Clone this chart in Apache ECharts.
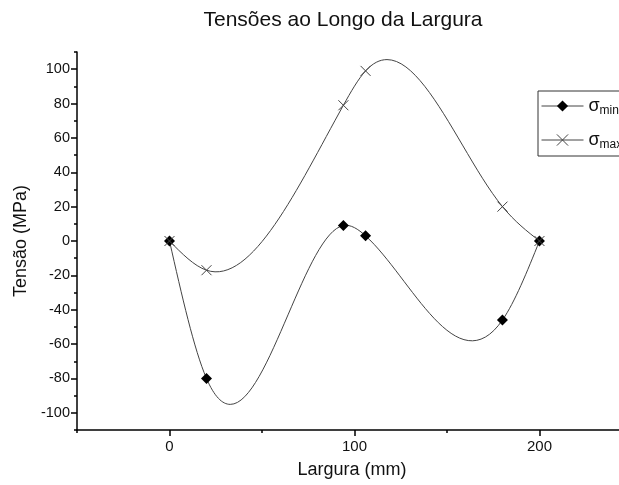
<!DOCTYPE html>
<html>
<head>
<meta charset="utf-8">
<script src="https://cdn.jsdelivr.net/npm/echarts@6/dist/echarts.min.js"></script>
<style>
  html, body { margin: 0; padding: 0; background: #fff; }
  #main { width: 619px; height: 485px; }
</style>
</head>
<body>
<div id="main"></div>
<script>
// largura (mm) e tensões (MPa)
const largura = [0, 20, 94, 106, 180, 200];
const sigmaMin = [0, -80, 9, 3, -46, 0];
const sigmaMax = [0, -17, 79, 99, 20, 0];
const yTicks = [-100, -80, -60, -40, -20, 0, 20, 40, 60, 80, 100];
const yMinorTicks = [-110, -90, -70, -50, -30, -10, 10, 30, 50, 70, 90, 110];
const xTicks = [0, 100, 200];
const xMinorTicks = [-50, 50, 150];

const font = 'Arial, "Liberation Sans", sans-serif';
const lineColor = '#444';
const crossPath = 'path://M0,0L10,10M10,0L0,10';

// spline cúbica natural -> segmentos bezier (em coordenadas de dados)
function splineSegments(xs, ys) {
    const n = xs.length;
    const h = [];
    for (let i = 0; i < n - 1; i++) h.push(xs[i + 1] - xs[i]);
    // sistema tridiagonal para as segundas derivadas M
    const a = new Array(n).fill(0), b = new Array(n).fill(1), c = new Array(n).fill(0), d = new Array(n).fill(0);
    for (let i = 1; i < n - 1; i++) {
        a[i] = h[i - 1];
        b[i] = 2 * (h[i - 1] + h[i]);
        c[i] = h[i];
        d[i] = 6 * ((ys[i + 1] - ys[i]) / h[i] - (ys[i] - ys[i - 1]) / h[i - 1]);
    }
    for (let i = 1; i < n; i++) {
        const m = a[i] / b[i - 1];
        b[i] -= m * c[i - 1];
        d[i] -= m * d[i - 1];
    }
    const M = new Array(n).fill(0);
    M[n - 1] = d[n - 1] / b[n - 1];
    for (let i = n - 2; i >= 0; i--) M[i] = (d[i] - c[i] * M[i + 1]) / b[i];

    const segs = [];
    for (let i = 0; i < n - 1; i++) {
        const hi = h[i];
        const s = (ys[i + 1] - ys[i]) / hi;
        const d0 = s - hi * (2 * M[i] + M[i + 1]) / 6;
        const d1 = s + hi * (M[i] + 2 * M[i + 1]) / 6;
        segs.push([
            [xs[i], ys[i]],
            [xs[i] + hi / 3, ys[i] + d0 * hi / 3],
            [xs[i + 1] - hi / 3, ys[i + 1] - d1 * hi / 3],
            [xs[i + 1], ys[i + 1]]
        ]);
    }
    return segs;
}

function curveSeries(xs, ys) {
    const segs = splineSegments(xs, ys);
    return {
        type: 'custom',
        silent: true,
        z: 1,
        data: segs.map(s => s[0]),
        renderItem: (params, api) => {
            const s = segs[params.dataIndex];
            const p = s.map(pt => api.coord(pt));
            return {
                type: 'bezierCurve',
                shape: {
                    x1: p[0][0], y1: p[0][1],
                    cpx1: p[1][0], cpy1: p[1][1],
                    cpx2: p[2][0], cpy2: p[2][1],
                    x2: p[3][0], y2: p[3][1]
                },
                style: { fill: null, stroke: lineColor, lineWidth: 1 }
            };
        }
    };
}

const pairs = (xs, ys) => xs.map((x, i) => [x, ys[i]]);

var myChart = echarts.init(document.getElementById('main'));

const axisName = { fontFamily: font, fontSize: 18, color: '#111' };
const blackLine = { color: '#000', width: 1.5 };

let option = {
    animation: false,
    backgroundColor: '#fff',
    title: {
        text: 'Tensões ao Longo da Largura',
        left: 338,
        textAlign: 'center',
        top: 5,
        textStyle: { fontFamily: font, fontSize: 21, fontWeight: 'normal', color: '#111' }
    },
    legend: {
        left: 538,
        top: 91,
        orient: 'vertical',
        itemWidth: 42,
        itemHeight: 14,
        itemGap: 14,
        padding: [6, 30, 5, 3],
        borderColor: '#333',
        borderWidth: 1,
        data: [
            { name: 'min', lineStyle: { opacity: 1, color: lineColor, width: 1 } },
            { name: 'max', lineStyle: { opacity: 1, color: lineColor, width: 1 },
              itemStyle: { color: 'none', borderColor: lineColor, borderWidth: 1 } }
        ],
        formatter: name => '{s|σ}{sub|' + name + '}',
        textStyle: {
            fontFamily: font,
            rich: {
                s: { fontSize: 18, color: '#111', fontFamily: font },
                sub: { fontSize: 12, color: '#111', fontFamily: font, padding: [10, 0, 0, 0] }
            }
        }
    },
    grid: { left: 77, top: 52, width: 542, height: 378, containLabel: false },
    xAxis: [
        {
            type: 'value',
            min: -50,
            max: 243,
            name: 'Largura (mm)',
            nameLocation: 'middle',
            nameGap: 31,
            nameTextStyle: Object.assign({ padding: [0, 0, 0, 8] }, axisName),
            axisLine: { show: true, onZero: false, lineStyle: blackLine },
            axisTick: { show: true, length: 6, customValues: xTicks, lineStyle: blackLine },
            axisLabel: { fontFamily: font, fontSize: 15, color: '#111', margin: 9, customValues: xTicks },
            splitLine: { show: false }
        },
        {
            type: 'value',
            min: -50,
            max: 243,
            position: 'bottom',
            axisLine: { show: false, onZero: false },
            axisTick: { show: true, length: 3, customValues: xMinorTicks, lineStyle: blackLine },
            axisLabel: { show: false },
            splitLine: { show: false }
        }
    ],
    yAxis: [
        {
            type: 'value',
            min: -110,
            max: 110,
            name: 'Tensão (MPa)',
            nameLocation: 'middle',
            nameGap: 35,
            nameTextStyle: axisName,
            axisLine: { show: true, onZero: false, lineStyle: blackLine },
            axisTick: { show: true, length: 6, customValues: yTicks, lineStyle: blackLine },
            axisLabel: { fontFamily: font, fontSize: 14.5, color: '#111', margin: 7, customValues: yTicks },
            splitLine: { show: false }
        },
        {
            type: 'value',
            min: -110,
            max: 110,
            position: 'left',
            axisLine: { show: false, onZero: false },
            axisTick: { show: true, length: 3, customValues: yMinorTicks, lineStyle: blackLine },
            axisLabel: { show: false },
            splitLine: { show: false }
        }
    ],
    series: [
        curveSeries(largura, sigmaMin),
        curveSeries(largura, sigmaMax),
        {
            name: 'min',
            type: 'line',
            data: pairs(largura, sigmaMin),
            symbol: 'diamond',
            symbolSize: 11,
            showAllSymbol: true,
            z: 3,
            lineStyle: { opacity: 0 },
            itemStyle: { color: '#000' }
        },
        {
            name: 'max',
            type: 'line',
            data: pairs(largura, sigmaMax),
            symbol: crossPath,
            symbolSize: 10,
            showAllSymbol: true,
            z: 3,
            lineStyle: { opacity: 0 },
            itemStyle: { color: 'none', borderColor: lineColor, borderWidth: 1 }
        }
    ]
};
myChart.setOption(option);
</script>
</body>
</html>
